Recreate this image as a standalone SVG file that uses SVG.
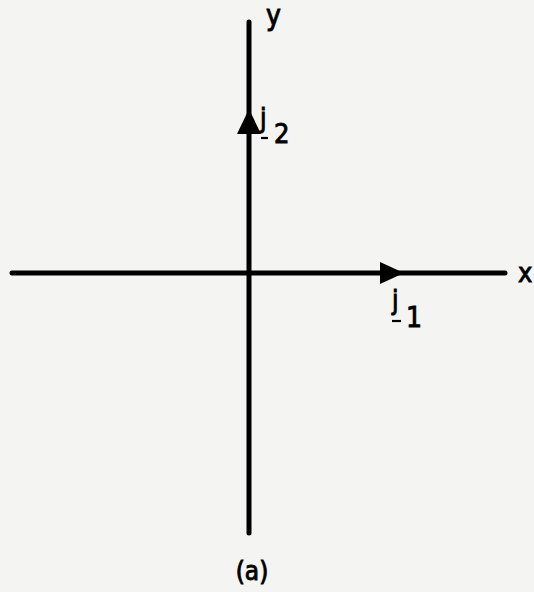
<svg xmlns="http://www.w3.org/2000/svg" width="534" height="592" viewBox="0 0 534 592">
<style>
.ax{stroke:#000;stroke-width:5;stroke-linecap:round;fill:none}
.lbl{font-family:"DejaVu Sans Condensed","DejaVu Sans","Liberation Sans",sans-serif;fill:#000;stroke:#000;stroke-width:0.9}
.ul{stroke:#000;stroke-width:2.2}
</style>
<rect width="534" height="592" fill="#f4f4f2"/>
<g id="connectors">
<line class="ax" x1="249" y1="22" x2="249" y2="533"/>
<line class="ax" x1="12" y1="273" x2="505" y2="273"/>
<polygon points="249,109 237,134 261,134" fill="#000"/>
<polygon points="404,273 380,262 380,284" fill="#000"/>
</g>
<g id="label-y"><text class="lbl" x="266" y="25" font-size="28">y</text></g>
<g id="label-x"><text class="lbl" x="518" y="282" font-size="27">x</text></g>
<g id="label-j2">
<text class="lbl" x="260" y="127" font-size="26">j</text>
<line class="ul" x1="261" y1="138" x2="268" y2="138"/>
<text class="lbl" x="274" y="143" font-size="27">2</text>
</g>
<g id="label-j1">
<text class="lbl" x="392" y="309" font-size="26">j</text>
<line class="ul" x1="392" y1="321" x2="401" y2="321"/>
<text class="lbl" x="406" y="327" font-size="28">1</text>
</g>
<g id="caption"><text class="lbl" x="252" y="580" font-size="26" text-anchor="middle">(a)</text></g>
</svg>
